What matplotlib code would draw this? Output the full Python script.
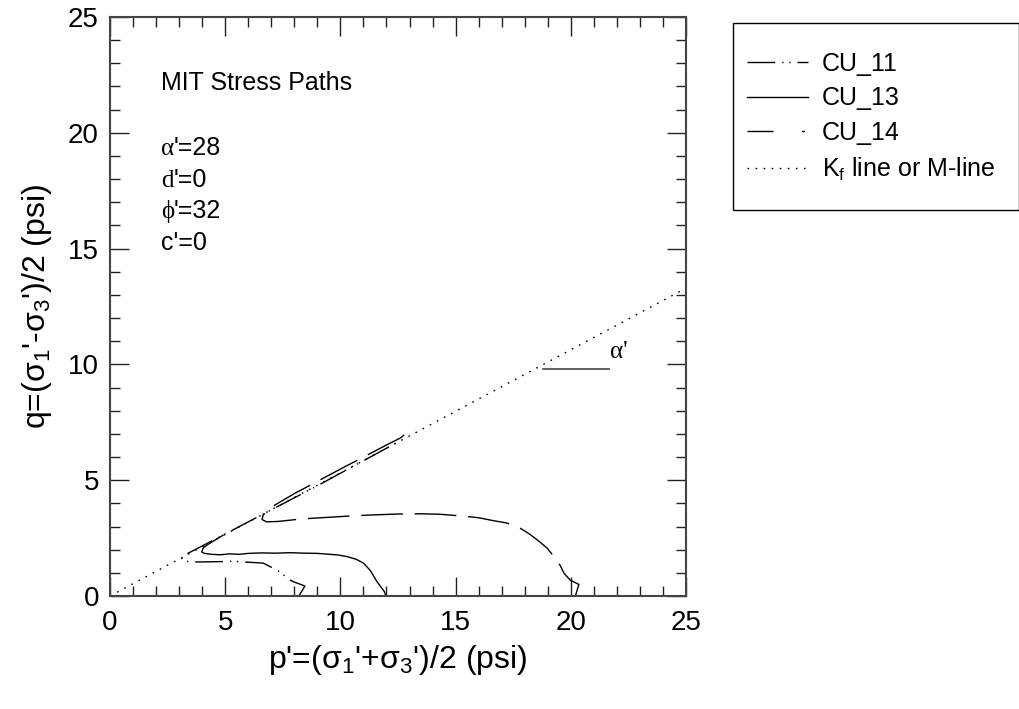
import matplotlib
matplotlib.use('Agg')
import matplotlib.pyplot as plt
from matplotlib.lines import Line2D
from matplotlib.patches import Rectangle
from matplotlib.ticker import MultipleLocator

plt.rcParams['font.family'] = ['Liberation Sans', 'DejaVu Sans']
plt.rcParams['mathtext.fontset'] = 'custom'
plt.rcParams['mathtext.rm'] = 'Liberation Sans'
plt.rcParams['mathtext.it'] = 'Liberation Sans'
plt.rcParams['mathtext.bf'] = 'Liberation Sans:bold'
plt.rcParams['mathtext.sf'] = 'Liberation Sans'

# ---------------- data ----------------
cu11_p = [8.20, 8.46, 7.95, 7.67, 7.45, 7.08, 6.65, 6.00, 5.35, 4.60, 3.90, 3.47,
          3.20, 3.12, 3.20, 4.00, 5.00, 6.00, 7.00, 8.00, 9.00, 10.00, 11.00, 12.00, 12.40]
cu11_q = [0.00, 0.43, 0.62, 0.77, 1.00, 1.20, 1.42, 1.46, 1.50, 1.48, 1.47, 1.47,
          1.52, 1.62, 1.75, 2.16, 2.68, 3.20, 3.72, 4.24, 4.76, 5.30, 5.84, 6.38, 6.60]

cu13_p = [11.98, 11.90, 11.75, 11.60, 11.45, 11.30, 11.00, 10.70, 10.30, 9.90, 9.40,
          9.00, 8.40, 7.80, 7.20, 6.60, 6.00, 5.60, 5.20, 4.80, 4.40, 4.10, 3.98,
          4.05, 4.30, 4.60, 4.90]
cu13_q = [0.00, 0.20, 0.40, 0.60, 0.85, 1.10, 1.42, 1.58, 1.70, 1.77, 1.81,
          1.84, 1.85, 1.87, 1.85, 1.86, 1.84, 1.80, 1.82, 1.78, 1.80, 1.84, 1.90,
          2.08, 2.26, 2.44, 2.62]

cu14_p = [20.20, 20.35, 19.97, 19.70, 19.55, 19.35, 18.97, 18.60, 18.20, 17.80,
          17.23, 16.60, 16.00, 15.20, 14.30, 13.50, 12.50, 11.40, 10.50, 9.70,
          9.00, 8.25, 7.30, 6.80, 6.60, 6.65, 7.16, 8.00, 9.00, 10.00, 11.00,
          12.00, 12.60, 12.80, 13.00]
cu14_q = [0.00, 0.50, 0.69, 0.99, 1.30, 1.60, 2.07, 2.38, 2.68, 2.93,
          3.15, 3.26, 3.38, 3.46, 3.53, 3.55, 3.54, 3.50, 3.46, 3.41,
          3.37, 3.32, 3.22, 3.20, 3.30, 3.50, 3.93, 4.42, 4.95, 5.48, 6.00,
          6.52, 6.82, 6.98, 6.95]

kf_p = [0.0, 25.0]
kf_q = [0.0, 13.29]

alpha_line_p = [18.8, 21.66]
alpha_line_q = [9.8, 9.8]

labels = ["CU_11", "CU_13", "CU_14", "K$_\\mathrm{f}$ line or M-line"]
param_lines = [("\u03b1", "'=28"), ("d", "'=0"), ("\u03d5", "'=32"), ("", "c'=0")]

# ---------------- figure ----------------
W, H = 1020, 709
fig = plt.figure(figsize=(W / 100, H / 100), dpi=100)
ax = fig.add_axes([110 / W, 1 - 596 / H, 576 / W, 579 / H])

dash11 = (20, 5, 1, 4, 1, 5)
dash14 = (30, 8.5)
dashkf = (1.2, 4.6)
serif = ['Liberation Serif', 'DejaVu Serif']

ax.plot(kf_p, kf_q, color='black', lw=1.0, dashes=dashkf)
ax.plot(cu11_p, cu11_q, color='black', lw=1.0, dashes=dash11)
ax.plot(cu13_p, cu13_q, color='black', lw=1.0)
ax.plot(cu14_p, cu14_q, color='black', lw=1.0, dashes=dash14)
ax.plot(alpha_line_p, alpha_line_q, color='#555555', lw=1.3)

ax.text(21.72, 10.28, "\u03b1'", fontsize=18, family=serif, va='baseline')

ax.set_xlim(0, 25)
ax.set_ylim(0, 25)
ax.xaxis.set_major_locator(MultipleLocator(5))
ax.yaxis.set_major_locator(MultipleLocator(5))
ax.xaxis.set_minor_locator(MultipleLocator(1))
ax.yaxis.set_minor_locator(MultipleLocator(1))
ax.tick_params(which='both', direction='in', top=True, right=True,
               colors='#222222', labelcolor='black', labelsize=20)
ax.tick_params(which='major', length=13.5, width=1.0)
ax.tick_params(which='minor', length=7, width=1.0)
ax.tick_params(axis='x', which='major', pad=10)
ax.tick_params(axis='y', which='major', pad=8)
for s in ax.spines.values():
    s.set_color('#444444')
    s.set_linewidth(1.5)

ax.set_xlabel("p'=(\u03c3$_1$'+\u03c3$_3$')/2 (psi)", fontsize=23, labelpad=5)
ax.set_ylabel("q=(\u03c3$_1$'-\u03c3$_3$')/2 (psi)", fontsize=23, labelpad=10)

# annotation texts
ax.text(2.2, 21.85, "MIT Stress Paths", fontsize=18, va='baseline')
fig.canvas.draw()
renderer = fig.canvas.get_renderer()
ys = [19.04, 17.66, 16.30, 14.94]
for (sym, rest), y in zip(param_lines, ys):
    x0 = 2.2
    if sym:
        t = ax.text(x0, y, sym, fontsize=18, family=serif, va='baseline')
        bb = t.get_window_extent(renderer)
        xd = ax.transData.inverted().transform((bb.x1, bb.y0))[0]
    else:
        xd = x0
    ax.text(xd, y, rest, fontsize=18, va='baseline')

# legend
handles = [
    Line2D([], [], color='black', lw=1.0, dashes=dash11),
    Line2D([], [], color='black', lw=1.0),
    Line2D([], [], color='black', lw=1.0, dashes=(18.7, 20.5, 2.2, 20)),
    Line2D([], [], color='black', lw=1.0, dashes=dashkf),
]
fig.add_artist(Rectangle((733 / W, 1 - 210 / H), (1019 - 733) / W, (210 - 23) / H,
                         transform=fig.transFigure, fill=False, edgecolor='black', lw=1.0))
fig.legend(handles, labels, loc='upper left', bbox_to_anchor=(747 / W, 1 - 52 / H),
           bbox_transform=fig.transFigure, fontsize=18, frameon=False,
           borderpad=0, borderaxespad=0, handlelength=2.44, handletextpad=0.56,
           labelspacing=0.42)

fig.savefig('out.png', dpi=100)
